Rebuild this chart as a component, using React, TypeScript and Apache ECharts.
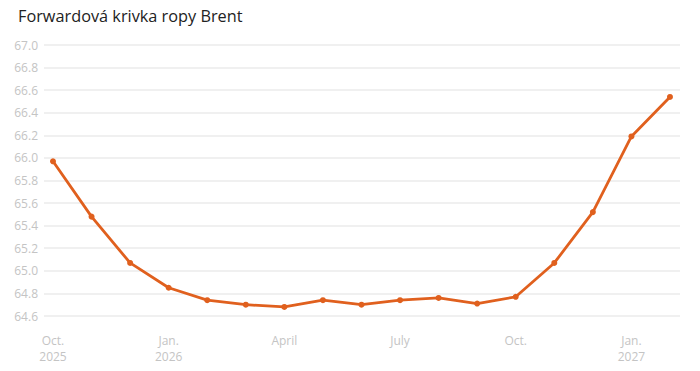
import React, { useEffect, useRef } from "react";
import * as echarts from "echarts";

const months = [
  "Oct. 2025", "Nov. 2025", "Dec. 2025", "Jan. 2026", "Feb. 2026", "Mar. 2026",
  "Apr. 2026", "May 2026", "Jun. 2026", "Jul. 2026", "Aug. 2026", "Sep. 2026",
  "Oct. 2026", "Nov. 2026", "Dec. 2026", "Jan. 2027", "Feb. 2027",
];
const prices = [
  65.97, 65.48, 65.07, 64.85, 64.74, 64.70, 64.68, 64.74, 64.70, 64.74,
  64.76, 64.71, 64.77, 65.07, 65.52, 66.19, 66.54,
];
const tickIndices = [0, 3, 6, 9, 12, 15];
const tickLabels = ["Oct.\n2025", "Jan.\n2026", "April", "July", "Oct.", "Jan.\n2027"];

export default function App() {
  const ref = useRef<HTMLDivElement>(null);
  useEffect(() => {
    if (!ref.current) return;
    const chart = echarts.init(ref.current, null, { renderer: "svg" });
    chart.setOption({
      animation: false,
      backgroundColor: "#ffffff",
      title: {
        text: "Forwardová krivka ropy Brent",
        left: 18,
        top: 8,
        padding: 0,
        textStyle: {
          fontFamily: "Open Sans",
          fontSize: 16.3,
          fontWeight: "normal",
          color: "#222222",
        },
      },
      grid: { left: 44, right: 20, top: 45, bottom: 55 },
      xAxis: {
        type: "value",
        min: -0.233,
        max: 16.26,
        splitLine: { show: false },
        axisLine: { show: false },
        axisTick: { show: false },
        axisLabel: {
          customValues: tickIndices,
          formatter: (v: number) => {
            const i = tickIndices.indexOf(Math.round(v));
            return i >= 0 ? tickLabels[i] : "";
          },
          color: "#c4c4c4",
          fontFamily: "Open Sans",
          fontSize: 12,
          lineHeight: 16,
          margin: 16,
          verticalAlign: "top",
        },
      },
      yAxis: {
        type: "value",
        min: 64.6,
        max: 67.0,
        interval: 0.2,
        axisLine: { show: false },
        axisTick: { show: false },
        splitLine: { lineStyle: { color: "#ebebeb", width: 1.5 } },
        axisLabel: {
          formatter: (v: number) => v.toFixed(1),
          color: "#c4c4c4",
          fontFamily: "Open Sans",
          fontSize: 12,
          margin: 6,
        },
      },
      series: [
        {
          type: "line",
          data: prices.map((p, i) => [i, p]),
          name: "Brent",
          symbol: "circle",
          symbolSize: 6,
          lineStyle: { color: "#e0601e", width: 2.8 },
          itemStyle: { color: "#e0601e" },
        },
      ],
      tooltip: { show: false },
    });
    void months;
    return () => chart.dispose();
  }, []);
  return (
    <div
      ref={ref}
      style={{ marginTop: -8, marginLeft: -8, width: 700, height: 371 }}
    />
  );
}
